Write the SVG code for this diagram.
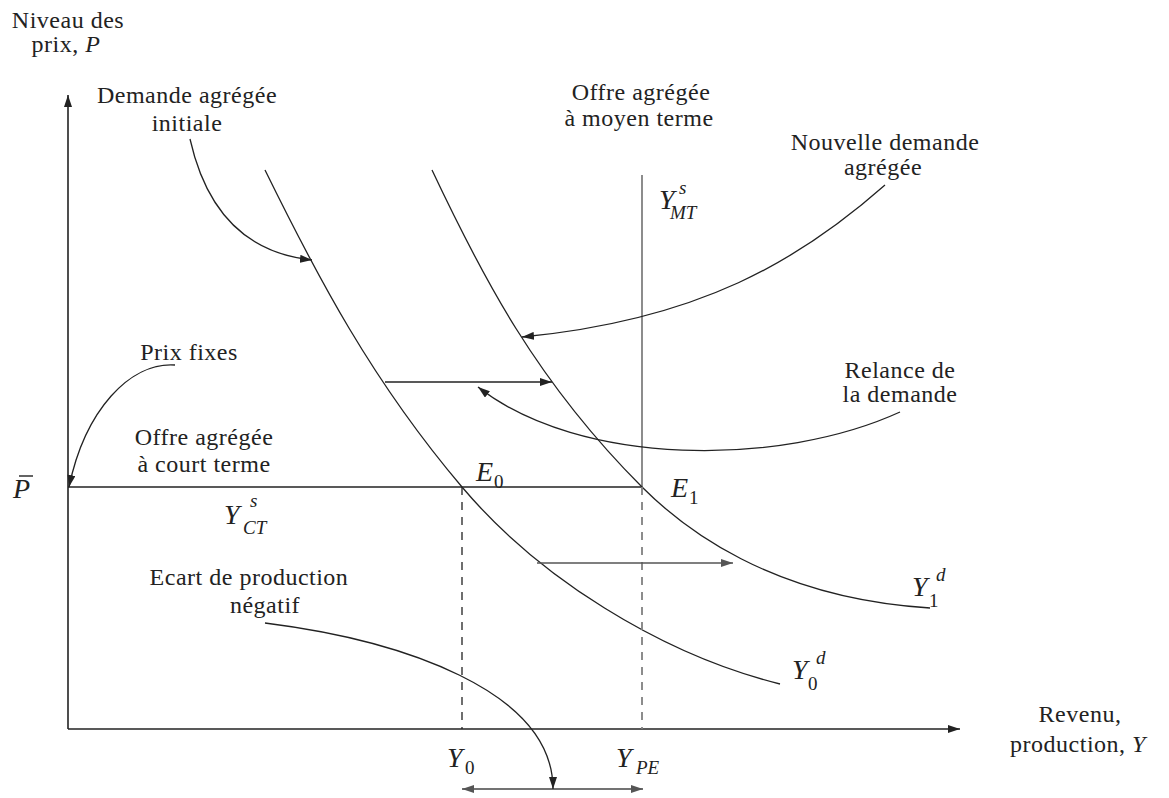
<svg xmlns="http://www.w3.org/2000/svg" width="1169" height="798" viewBox="0 0 1169 798">
<style>
.t{font-family:"Liberation Serif","Times New Roman",serif;font-size:24px;fill:#222;letter-spacing:0.5px}
.m{font-family:"Liberation Serif","Times New Roman",serif;font-style:italic;font-size:28px;fill:#222}
.s{font-style:italic;font-size:19px}
.n{font-style:normal;font-size:19px}
.k{fill:none;stroke:#222;stroke-width:1.3}
.ax{fill:none;stroke:#222;stroke-width:1.6}
.g{fill:none;stroke:#808080;stroke-width:1.8}
.dk{stroke-dasharray:8 7}
</style>
<defs>
<marker id="ah" viewBox="0 0 12 8" refX="12" refY="4" markerWidth="12" markerHeight="8" markerUnits="userSpaceOnUse" orient="auto-start-reverse"><path d="M0,0 L12,4 L0,8 Z" fill="#222"/></marker>
<marker id="ahg" viewBox="0 0 12 8" refX="12" refY="4" markerWidth="12" markerHeight="8" markerUnits="userSpaceOnUse" orient="auto-start-reverse"><path d="M0,0 L12,4 L0,8 Z" fill="#555"/></marker>
</defs>
<g id="axes">
<path class="ax" d="M68,729 V95" marker-end="url(#ah)"/>
<path class="ax" d="M68,729 H960" marker-end="url(#ah)"/>
<text class="t" x="68" y="28" text-anchor="middle">Niveau des</text>
<text class="t" x="66" y="52" text-anchor="middle">prix, <tspan font-style="italic">P</tspan></text>
<text class="t" x="1080" y="722" text-anchor="middle">Revenu,</text>
<text class="t" x="1078" y="752" text-anchor="middle">production, <tspan font-style="italic">Y</tspan></text>
</g>
<g id="supply-short">
<path class="ax" d="M68,487 H642"/>
<text class="m" x="13" y="498">P</text>
<path d="M19,476 H33" stroke="#222" stroke-width="1.4"/>
<text class="m" x="224" y="524">Y<tspan class="s" x="250" y="507">s</tspan><tspan class="s" x="243" y="534">CT</tspan></text>
</g>
<g id="supply-medium">
<path class="g" d="M642,175 V487"/>
<text class="m" x="659" y="209">Y<tspan class="s" x="679" y="194">s</tspan><tspan class="s" x="670" y="219">MT</tspan></text>
</g>
<g id="demand-0">
<path class="k" d="M265,170 C317,276 372,381 462,487 C538,577 660,654 780,684"/>
<text class="m" x="792" y="679">Y<tspan class="s" x="816" y="664">d</tspan><tspan class="n" x="808" y="690">0</tspan></text>
</g>
<g id="demand-1">
<path class="k" d="M432,170 C482,276 536,381 642,487 C682,527 770,598 930,608"/>
<text class="m" x="912" y="596">Y<tspan class="s" x="936" y="581">d</tspan><tspan class="n" x="929" y="607">1</tspan></text>
</g>
<g id="points">
<text class="m" x="476" y="481">E<tspan class="n" x="494" y="488">0</tspan></text>
<text class="m" x="671" y="497">E<tspan class="n" x="689" y="504">1</tspan></text>
<path class="k dk" d="M462,487 V729"/>
<path class="g dk" d="M642,487 V729"/>
<text class="m" x="447" y="767">Y<tspan class="n" x="465" y="774">0</tspan></text>
<text class="m" x="616" y="767">Y<tspan class="s" x="636" y="774">PE</tspan></text>
</g>
<g id="connectors">
<path class="k" d="M385,382 H552" marker-end="url(#ah)"/>
<path d="M537,563 H733" fill="none" stroke="#555" stroke-width="1.5" marker-end="url(#ahg)"/>
<path d="M462,789 H643" fill="none" stroke="#444" stroke-width="1.5" marker-start="url(#ahg)" marker-end="url(#ahg)"/>
<path class="k" d="M190,139 Q215,250 312,260" marker-end="url(#ah)"/>
<path class="k" d="M885,185 C800,260 700,320 522,337" marker-end="url(#ah)"/>
<path class="k" d="M900,412 C780,467 580,467 478,387" marker-end="url(#ah)"/>
<path class="k" d="M175,365 C130,362 85,410 69,487" marker-end="url(#ah)"/>
<path class="k" d="M265,623 C400,640 553,690 553,789" marker-end="url(#ah)"/>
</g>
<g id="label-demande-initiale">
<text class="t" x="187" y="103" text-anchor="middle">Demande agrégée</text>
<text class="t" x="187" y="131" text-anchor="middle">initiale</text>
</g>
<g id="label-offre-mt">
<text class="t" x="641" y="100" text-anchor="middle">Offre agrégée</text>
<text class="t" x="639" y="126" text-anchor="middle">à moyen terme</text>
</g>
<g id="label-nouvelle">
<text class="t" x="885" y="150" text-anchor="middle">Nouvelle demande</text>
<text class="t" x="883" y="175" text-anchor="middle">agrégée</text>
</g>
<g id="label-prix-fixes">
<text class="t" x="189" y="360" text-anchor="middle">Prix fixes</text>
</g>
<g id="label-offre-ct">
<text class="t" x="204" y="445" text-anchor="middle">Offre agrégée</text>
<text class="t" x="204" y="472" text-anchor="middle">à court terme</text>
</g>
<g id="label-relance">
<text class="t" x="900" y="378" text-anchor="middle">Relance de</text>
<text class="t" x="900" y="402" text-anchor="middle">la demande</text>
</g>
<g id="label-ecart">
<text class="t" x="249" y="585" text-anchor="middle">Ecart de production</text>
<text class="t" x="265" y="613" text-anchor="middle">négatif</text>
</g>
</svg>
